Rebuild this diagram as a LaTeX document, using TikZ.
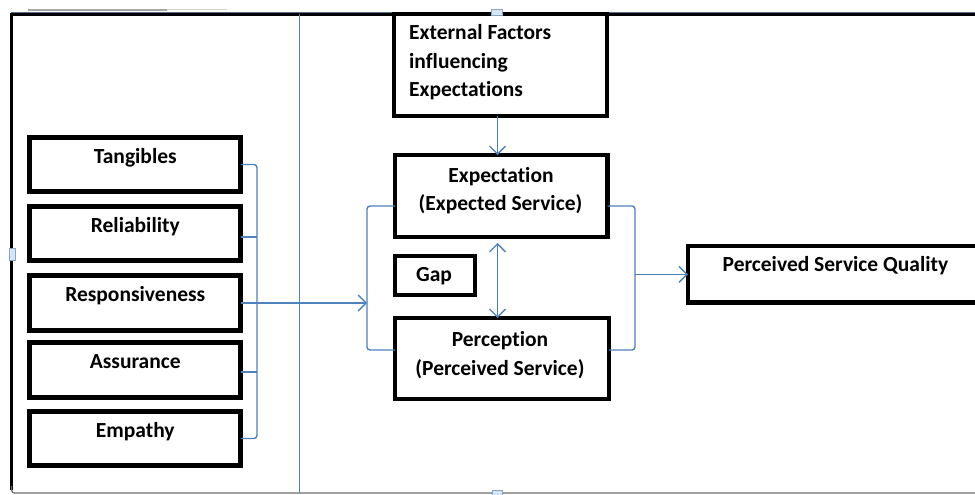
\documentclass[tikz,border=0pt]{standalone}
\usepackage{fontspec}
\setmainfont{Carlito}[Ligatures=NoCommon]
\usetikzlibrary{arrows.meta,calc}
\definecolor{linkblue}{HTML}{4F81BD}
\definecolor{framegray}{HTML}{6E6E6E}
\definecolor{frametop}{HTML}{5A6F8A}
\definecolor{handlefill}{HTML}{D6E6F5}
\definecolor{handledraw}{HTML}{8AA4C0}
\begin{document}
\begin{tikzpicture}[x=1pt,y=-1pt,
  box/.style={rectangle,draw=black,line width=4.6pt,inner sep=0pt,outer sep=0pt},
  lbl/.style={font=\bfseries\fontsize{21.5}{27}\selectfont,inner sep=0pt,anchor=base},
  lblw/.style={lbl,anchor=base west},
  link/.style={draw=linkblue,line width=1.4pt},
  barb/.tip={Straight Barb[length=8pt,width=16pt,line width=1.4pt]},
  linkarrow/.style={link,-barb},
  linkboth/.style={link,barb-barb},
  handle/.style={rectangle,draw=handledraw,fill=handlefill,line width=0.6pt,inner sep=0pt}]
\clip (0,0) rectangle (975,495);
\fill[white] (0,0) rectangle (975,495);

% ruler fragment above the frame
\draw[gray!70,line width=1.6pt] (28,10) -- (167,10);
\draw[gray!35,line width=1pt] (167,10) -- (227,10);

% outer frame
\draw[frametop,line width=1.2pt] (11,12.5) -- (980,12.5);
\draw[black,line width=2.4pt] (11,14.6) -- (980,14.6);
\draw[black,line width=2.2pt] (11.5,13) -- (11.5,490);
\draw[framegray,line width=1.3pt,rounded corners=3pt] (11.5,486) -- (11.5,493) -- (980,493);

% divider
\draw[link] (299.5,14) -- (299.5,493);

% dimension boxes
\node[box,minimum width=211pt,minimum height=54pt] (tang) at (135.25,164.5) {};
\node[box,minimum width=211pt,minimum height=54pt] (reli) at (135.25,233.5) {};
\node[box,minimum width=211pt,minimum height=55pt] (resp) at (135.25,303) {};
\node[box,minimum width=211pt,minimum height=55pt] (assu) at (135.25,370) {};
\node[box,minimum width=211pt,minimum height=54pt] (empa) at (135.25,438.5) {};
\node[lbl] (tangT) at ($(tang.north)+(0,26)$) {Tangibles};
\node[lbl] (reliT) at ($(reli.north)+(0,26)$) {Reliability};
\node[lbl] (respT) at ($(resp.north)+(0,26)$) {Responsiveness};
\node[lbl] (assuT) at ($(assu.north)+(0,26)$) {Assurance};
\node[lbl] (empaT) at ($(empa.north)+(0,26)$) {Empathy};

% central boxes
\node[box,minimum width=213pt,minimum height=102pt] (ext) at (500.5,65) {};
\node[lblw] (extT1) at (409,40) {External Factors};
\node[lblw] (extT2) at (409,68.3) {influencing};
\node[lblw] (extT3) at (409,96.7) {Expectations};

\node[box,minimum width=212.5pt,minimum height=82pt] (expt) at (501.25,196) {};
\node[lbl] (exptT1) at (501,182.7) {Expectation};
\node[lbl] (exptT2) at (500.5,210) {(Expected Service)};

\node[box,minimum width=80pt,minimum height=39pt] (gap) at (435,275.5) {};
\node[lbl] (gapT) at (434,281.7) {Gap};

\node[box,minimum width=214pt,minimum height=81pt] (perc) at (502,358.5) {};
\node[lbl] (percT1) at (500,346.7) {Perception};
\node[lbl] (percT2) at (500,375) {(Perceived Service)};

\node[box,minimum width=322pt,minimum height=56.7pt] (psq) at (849,274.4) {};
\node[lbl] (psqT) at (835.5,271.7) {Perceived Service Quality};

% bracket spines
\coordinate (spineL) at (257,0);
\coordinate (spineM) at (367,0);
\coordinate (spineR) at (635,0);
\coordinate (vArrow) at (497.5,0);

% left bracket gathering the five dimensions
\draw[link,rounded corners=3pt] (tang.east) -- (tang.east -| spineL) -- (empa.east -| spineL) -- (empa.east);
\draw[link,rounded corners=2pt] ($(reli.east)+(0,3.5)$) -- ($(reli.east -| spineL)+(0,3.5)$);
\draw[link,rounded corners=2pt] ($(assu.east)+(0,2)$) -- ($(assu.east -| spineL)+(0,2)$);
\draw[linkarrow] (resp.east) -- (resp.east -| spineM);

% middle bracket joining expectation and perception
\coordinate (eL) at ($(expt.west)+(0,10)$);
\coordinate (pL) at ($(perc.west)+(0,-8.5)$);
\draw[link,rounded corners=3pt] (eL) -- (eL -| spineM) -- (pL -| spineM) -- (pL);

% right bracket feeding perceived quality
\coordinate (eR) at ($(expt.east)+(0,10)$);
\coordinate (pR) at ($(perc.east)+(0,-8.5)$);
\draw[link,rounded corners=3pt] (eR) -- (eR -| spineR) -- (pR -| spineR) -- (pR);
\draw[linkarrow] (psq.west -| spineR) -- (psq.west);

% vertical arrows
\draw[linkarrow] (ext.south -| vArrow) -- (expt.north -| vArrow);
\draw[linkboth] ($(expt.south -| vArrow)+(0,6)$) -- (perc.north -| vArrow);

% selection handles
\node[handle,minimum width=11pt,minimum height=6pt] (hTop) at (497,12) {};
\node[handle,minimum width=6pt,minimum height=12pt] (hLeft) at (12,254) {};
\node[handle,minimum width=10pt,minimum height=5pt] (hBottom) at (497,493) {};
\end{tikzpicture}
\end{document}
